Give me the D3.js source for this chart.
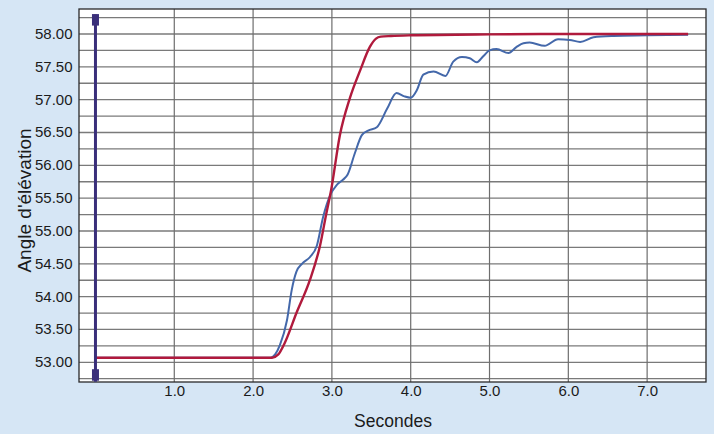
<!DOCTYPE html>
<html><head><meta charset="utf-8">
<script src="https://cdn.jsdelivr.net/npm/d3@7"></script>
<style>
html,body{margin:0;padding:0;background:#d6e6f5;}
text{font-family:"Liberation Sans",Arial,sans-serif;fill:#1b1b1b;}
</style></head>
<body><svg id="c" width="714" height="434"></svg>
<script>
const xTicks = [1,2,3,4,5,6,7];
const yTicks = [53.0,53.5,54.0,54.5,55.0,55.5,56.0,56.5,57.0,57.5,58.0];
const yGrid = [52.75,53.0,53.25,53.5,53.75,54.0,54.25,54.5,54.75,55.0,55.25,55.5,55.75,56.0,56.25,56.5,56.75,57.0,57.25,57.5,57.75,58.0,58.25];
const markerX = 0;
const markerRange = [52.75, 58.25];

const redT = [0,2.24,2.32,2.40,2.55,2.72,2.85,2.93,2.99,3.10,3.23,3.36,3.48,3.56,3.62,3.75,4.0,5.0,6.0,7.52];
const redV = [53.07,53.07,53.12,53.29,53.75,54.25,54.78,55.27,55.62,56.45,57.03,57.45,57.80,57.93,57.96,57.97,57.98,57.995,58.0,58.0];

const blueT = [0,2.22,2.28,2.34,2.43,2.49,2.55,2.62,2.72,2.81,2.89,2.98,3.06,3.14,3.20,3.29,3.38,3.46,3.57,3.70,3.82,3.92,4.0,4.08,4.16,4.29,4.44,4.54,4.65,4.75,4.84,4.92,5.0,5.09,5.24,5.34,5.43,5.51,5.70,5.87,6.02,6.15,6.32,6.57,7.0,7.52];
const blueV = [53.07,53.07,53.12,53.26,53.64,54.10,54.38,54.50,54.60,54.78,55.22,55.55,55.70,55.78,55.86,56.18,56.46,56.53,56.58,56.86,57.10,57.05,57.03,57.15,57.38,57.43,57.36,57.58,57.65,57.63,57.57,57.66,57.75,57.77,57.71,57.80,57.86,57.87,57.82,57.92,57.91,57.88,57.95,57.97,57.98,57.99];

const svg = d3.select("#c");
const L=79, R=706, T=9, B=382;
const x = d3.scaleLinear().domain([-0.209, 7.747]).range([L, R]);
const y = d3.scaleLinear().domain([53, 58]).range([362.3, 34]);

svg.append("rect").attr("width",714).attr("height",434).attr("fill","#d6e6f5");
svg.append("rect").attr("x",L).attr("y",T).attr("width",R-L).attr("height",B-T).attr("fill","#ffffff");

const g = svg.append("g");
g.selectAll("line.hg").data(yGrid).join("line")
  .attr("x1",L).attr("x2",R).attr("y1",d=>y(d)).attr("y2",d=>y(d))
  .attr("stroke","#7a7a7a").attr("stroke-width",1.3);
g.selectAll("line.vg").data(xTicks).join("line")
  .attr("y1",T).attr("y2",B).attr("x1",d=>x(d)).attr("x2",d=>x(d))
  .attr("stroke","#6e6e6e").attr("stroke-width",1.2);

// axes
const yAxis = d3.axisLeft(y).tickValues(yTicks).tickFormat(d3.format(".2f")).tickSize(0).tickPadding(6.5);
const ya = svg.append("g").attr("transform",`translate(${L},0)`).call(yAxis);
ya.select(".domain").remove();
ya.selectAll("text").attr("font-size",15).attr("dy","0.3em").attr("fill","#1b1b1b");
const xAxis = d3.axisBottom(x).tickValues(xTicks).tickFormat(d3.format(".1f")).tickSize(0).tickPadding(3);
const xa = svg.append("g").attr("transform",`translate(0,${B})`).call(xAxis);
xa.select(".domain").remove();
xa.selectAll("text").attr("font-size",15).attr("fill","#1b1b1b");

// border
svg.append("rect").attr("x",L).attr("y",T).attr("width",R-L).attr("height",B-T)
  .attr("fill","none").attr("stroke","#2a2a2a").attr("stroke-width",1.3);

const line = d3.line().x(d=>x(d[0])).y(d=>y(d[1])).curve(d3.curveMonotoneX);
svg.append("path").datum(d3.zip(blueT,blueV)).attr("d",line)
  .attr("fill","none").attr("stroke","#4468aa").attr("stroke-width",2);
svg.append("path").datum(d3.zip(redT,redV)).attr("d",line)
  .attr("fill","none").attr("stroke","#b01a3c").attr("stroke-width",2.4);

// marker
const mx = x(markerX);
svg.append("line").attr("x1",mx).attr("x2",mx).attr("y1",y(markerRange[1])-3).attr("y2",y(markerRange[0])+3)
  .attr("stroke","#3a2f7a").attr("stroke-width",3);
svg.append("rect").attr("x",mx-3.5).attr("y",y(markerRange[1])-3.5).attr("width",7).attr("height",11.5).attr("fill","#3a2f7a");
svg.append("rect").attr("x",mx-3.5).attr("y",y(markerRange[0])-9.5).attr("width",7).attr("height",11.5).attr("fill","#3a2f7a");

svg.append("text").attr("x",393).attr("y",426.5).attr("text-anchor","middle").attr("font-size",17.5).text("Secondes");
svg.append("text").attr("transform",`translate(30.5,200.5) rotate(-90)`).attr("text-anchor","middle").attr("font-size",19).text("Angle d'élévation");
</script></body></html>
